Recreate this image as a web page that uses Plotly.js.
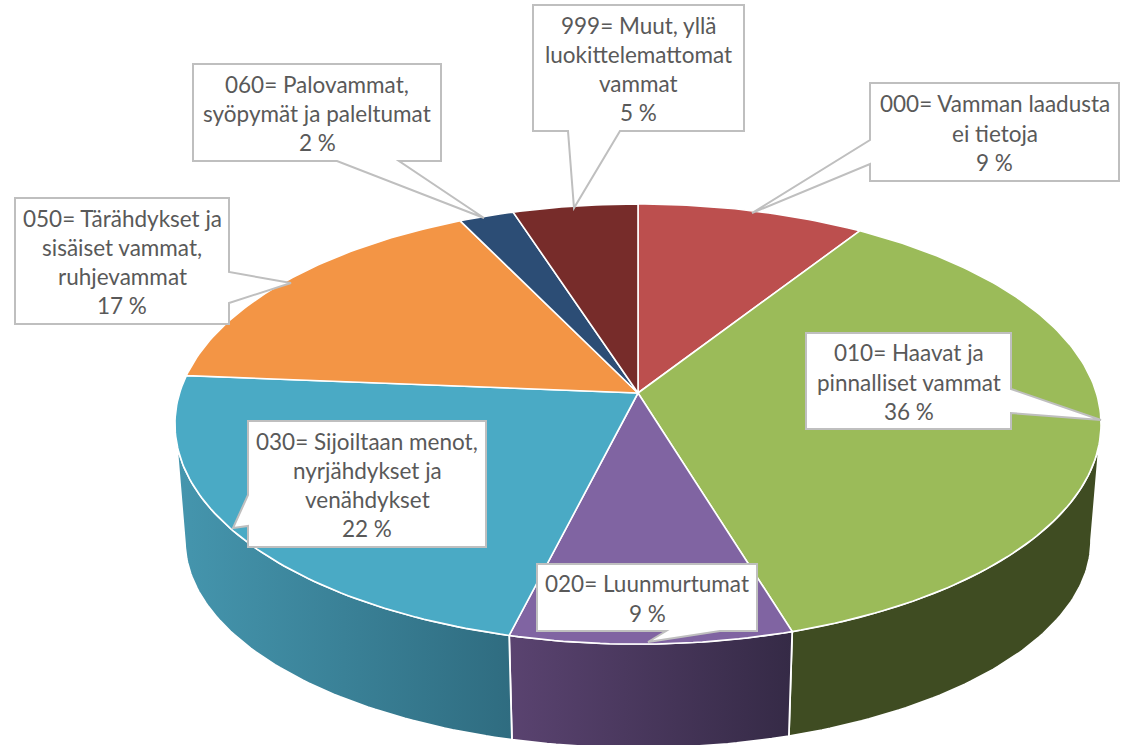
<!DOCTYPE html>
<html>
<head>
<meta charset="utf-8">
<script src="https://cdn.plot.ly/plotly-3.0.1.min.js"></script>
<style>html,body{margin:0;padding:0;background:#fff}#chart{width:1124px;height:745px}</style>
</head>
<body>
<div id="chart"></div>
<script>
// Values (order: clockwise from 12 o'clock)
const categories = ['000= Vamman laadusta ei tietoja','010= Haavat ja pinnalliset vammat','020= Luunmurtumat','030= Sijoiltaan menot, nyrjähdykset ja venähdykset','050= Tärähdykset ja sisäiset vammat, ruhjevammat','060= Palovammat, syöpymät ja paleltumat','999= Muut, yllä luokittelemattomat vammat'];
const values = [9.1, 36.2, 8.6, 22.4, 16.5, 2.2, 5.0];
const percentLabels = ['9 %','36 %','9 %','22 %','17 %','2 %','5 %'];
const labelLines = [
  ['000= Vamman laadusta','ei tietoja'],
  ['010= Haavat ja','pinnalliset vammat'],
  ['020= Luunmurtumat'],
  ['030= Sijoiltaan menot,','nyrjähdykset ja','venähdykset'],
  ['050= Tärähdykset ja','sisäiset vammat,','ruhjevammat'],
  ['060= Palovammat,','syöpymät ja paleltumat'],
  ['999= Muut, yllä','luokittelemattomat','vammat']
];
const topColors = ['#bc4f4e','#9bbb59','#8064a2','#4aaac5','#f39545','#2c4d75','#772c2a'];
const wallColors = [null,['#3f4c22','#3f4c22'],['#5a4370','#352a46'],['#4596ae','#2f6c80'],null,null,null];

// Perspective view of the disc
const view = {cx:638, a:0.141, top:{y0:393, rx:458.4, ry:215.7}, low:{y0:511.6, rx:448.5, ry:203}};
function project(deg, disc){
  const t = deg*Math.PI/180, u = Math.sin(t), v = Math.cos(t), d = 1 + view.a*v;
  return [view.cx + disc.rx*u/d, disc.y0 - disc.ry*v/d];
}
function arc(from, to, disc){
  const n = Math.max(2, Math.ceil(Math.abs(to-from))), pts = [];
  for(let i=0;i<=n;i++) pts.push(project(from+(to-from)*i/n, disc));
  return pts;
}
const total = values.reduce((s,v)=>s+v,0);
let acc = 0;
const spans = values.map(v=>{const s=[acc/total*360,(acc+v)/total*360]; acc+=v; return s;});

const limb = 98; // where the outline of the disc turns
const traces = [];
spans.forEach((s,i)=>{
  if(!wallColors[i]) return;
  const from = Math.max(s[0],limb), to = Math.min(s[1],360-limb);
  const pts = arc(from,to,view.top).concat(arc(to,from,view.low));
  pts.push(pts[0]);
  traces.push({type:'scatter',mode:'lines',name:categories[i],x:pts.map(p=>p[0]),y:pts.map(p=>p[1]),
    fill:'toself',line:{color:'#ffffff',width:1.8},
    fillgradient:{type:'horizontal',colorscale:[[0,wallColors[i][0]],[1,wallColors[i][1]]]},
    hoverinfo:'skip',showlegend:false});
});
spans.forEach((s,i)=>{
  const pts = [[view.cx,view.top.y0]].concat(arc(s[0],s[1],view.top));
  pts.push(pts[0]);
  traces.push({type:'scatter',mode:'lines',name:categories[i],x:pts.map(p=>p[0]),y:pts.map(p=>p[1]),
    fill:'toself',fillcolor:topColors[i],line:{color:'#ffffff',width:1.6},
    text:percentLabels[i],hoverinfo:'name+text',showlegend:false});
});

// Callout boxes: box [x0,y0,x1,y1], side of the pointer, its base (two positions on that side), its tip
const callouts = [
  {box:[870,83,1119,181],  side:'l', base:[140,164], tip:[752,213]},
  {box:[806,333,1011,429], side:'r', base:[389,413], tip:[1101,420]},
  {box:[537,564,757,631],  side:'b', base:[666,720], tip:[648,642]},
  {box:[248,421,486,547],  side:'l', base:[495,526], tip:[233,528]},
  {box:[15,198,229,324],   side:'r', base:[272,303], tip:[291,283]},
  {box:[193,64,441,161],   side:'b', base:[337,399], tip:[484,218]},
  {box:[533,5,744,131],    side:'b', base:[568,620], tip:[574,208]}
];
function calloutPath(c){
  const [x0,y0,x1,y1] = c.box, [a,b] = c.base, t = c.tip;
  let p = [[x0,y0]];
  if(c.side==='l') p = [[x0,y0],[x1,y0],[x1,y1],[x0,y1],[x0,b],t,[x0,a]];
  if(c.side==='r') p = [[x0,y0],[x1,y0],[x1,a],t,[x1,b],[x1,y1],[x0,y1]];
  if(c.side==='b') p = [[x0,y0],[x1,y0],[x1,y1],[b,y1],t,[a,y1],[x0,y1]];
  return 'M'+p.map(q=>q.join(' ')).join(' L')+' Z';
}
const shapes = callouts.map(c=>({type:'path',xref:'x',yref:'y',path:calloutPath(c),
  fillcolor:'#ffffff',line:{color:'#bfbfbf',width:2},layer:'above'}));

const lineGap = 29.3;
const annotations = [];
callouts.forEach((c,i)=>{
  const lines = labelLines[i].concat([percentLabels[i]]);
  const mx = (c.box[0]+c.box[2])/2, my = (c.box[1]+c.box[3])/2 + 1;
  lines.forEach((txt,k)=>{
    annotations.push({x:mx,y:my+(k-(lines.length-1)/2)*lineGap,xref:'x',yref:'y',text:txt,showarrow:false,
      xanchor:'center',yanchor:'middle',font:{family:'Lato, "Open Sans", sans-serif',size:22.5,color:'#595959'}});
  });
});

Plotly.newPlot('chart',traces,{
  width:1124,height:745,margin:{l:0,r:0,t:0,b:0},
  paper_bgcolor:'#ffffff',plot_bgcolor:'#ffffff',showlegend:false,
  xaxis:{range:[0,1124],visible:false,fixedrange:true},
  yaxis:{range:[745,0],visible:false,fixedrange:true},
  shapes:shapes,annotations:annotations
},{displayModeBar:false,staticPlot:true});
</script>
</body>
</html>
